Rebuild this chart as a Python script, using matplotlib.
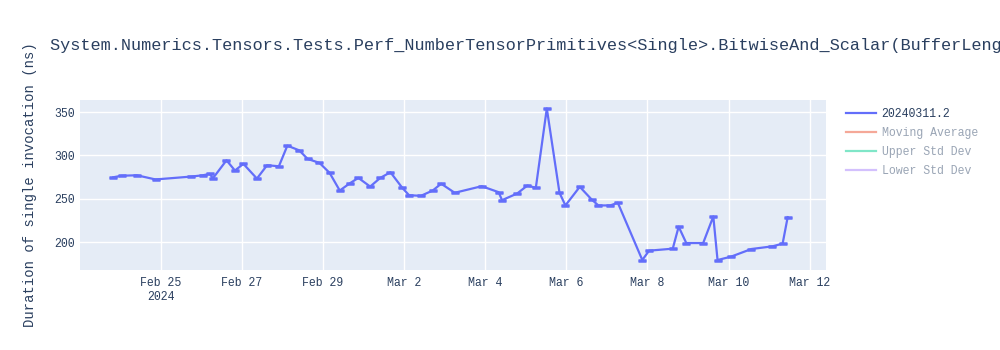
import matplotlib
matplotlib.use("Agg")
import matplotlib.pyplot as plt
from matplotlib.lines import Line2D
import pandas as pd

plt.rcParams["font.family"] = ["Liberation Mono", "DejaVu Sans Mono"]

TEXT = "#2a3f5f"
BLUE = "#636efa"

# values
run_times = [
    "2024-02-23 20:00", "2024-02-24 01:00", "2024-02-24 10:00", "2024-02-24 21:00",
    "2024-02-25 18:00", "2024-02-26 01:00", "2024-02-26 05:00", "2024-02-26 07:00",
    "2024-02-26 15:00", "2024-02-26 20:00", "2024-02-27 01:00", "2024-02-27 09:00",
    "2024-02-27 15:00", "2024-02-27 22:00", "2024-02-28 03:00", "2024-02-28 10:00",
    "2024-02-28 15:00", "2024-02-28 22:00", "2024-02-29 04:00", "2024-02-29 10:00",
    "2024-02-29 16:00", "2024-02-29 21:00", "2024-03-01 04:00", "2024-03-01 10:00",
    "2024-03-01 16:00", "2024-03-01 23:00", "2024-03-02 03:00", "2024-03-02 10:00",
    "2024-03-02 17:00", "2024-03-02 22:00", "2024-03-03 06:00", "2024-03-03 22:00",
    "2024-03-04 08:00", "2024-03-04 10:00", "2024-03-04 19:00", "2024-03-05 01:00",
    "2024-03-05 06:00", "2024-03-05 12:30", "2024-03-05 20:00", "2024-03-05 23:30",
    "2024-03-06 08:00", "2024-03-06 15:00", "2024-03-06 19:00", "2024-03-07 02:00",
    "2024-03-07 06:30", "2024-03-07 21:00", "2024-03-08 01:00", "2024-03-08 15:00",
    "2024-03-08 18:30", "2024-03-08 23:00", "2024-03-09 09:00", "2024-03-09 15:00",
    "2024-03-09 17:30", "2024-03-10 01:30", "2024-03-10 13:30", "2024-03-11 02:00",
    "2024-03-11 08:00", "2024-03-11 11:00",
]
durations = [
    274.7, 276.5, 277.0, 272.2, 275.5, 277.0, 278.6, 273.6,
    294.3, 282.5, 290.2, 273.2, 288.6, 287.4, 311.2, 305.8,
    295.9, 291.3, 279.8, 259.4, 267.8, 274.0, 264.0, 274.0,
    280.5, 262.5, 254.0, 253.3, 259.4, 267.3, 256.8, 264.4,
    257.5, 248.3, 256.0, 265.2, 262.5, 354.1, 256.8, 242.2,
    263.7, 249.1, 242.2, 242.2, 245.3, 179.2, 190.0, 192.3,
    217.7, 198.8, 198.8, 229.5, 179.2, 183.1, 191.9, 195.0,
    198.1, 228.7,
]
errors = [0.6] * len(durations)

series_name = "20240311.2"
hidden_names = ["Moving Average", "Upper Std Dev", "Lower Std Dev"]
hidden_colors = ["#f5a898", "#80e6c8", "#d3c0fd"]

y_ticks = [200, 250, 300, 350]
x_ticks = pd.date_range("2024-02-25", "2024-03-12", freq="2D")

title = ("System.Numerics.Tensors.Tests.Perf_NumberTensorPrimitives<Single>"
         ".BitwiseAnd_Scalar(BufferLength: 128)")

times = pd.to_datetime(run_times)

fig = plt.figure(figsize=(10, 3.5), dpi=100)
ax = fig.add_axes([0.08, 0.2286, 0.746, 0.4857])
ax.set_facecolor("#e5ecf6")

ax.errorbar(times, durations, yerr=errors, color=BLUE, lw=1.6,
            elinewidth=1.0, capsize=3.2, capthick=1.8, zorder=3)

ax.set_xlim(pd.Timestamp("2024-02-23 00:20"), pd.Timestamp("2024-03-12 09:40"))
ax.set_ylim(167.7, 363.9)
ax.set_yticks(y_ticks)
ax.set_xticks(x_ticks)
labels = []
for i, t in enumerate(x_ticks):
    s = f"{t.strftime('%b')} {t.day}"
    if i == 0:
        s += "\n2024"
    labels.append(s)
ax.set_xticklabels(labels)
ax.grid(True, color="white", lw=1.0)
ax.set_axisbelow(True)
for sp in ax.spines.values():
    sp.set_visible(False)
ax.tick_params(length=0, labelsize=8.3, colors=TEXT, pad=4)
ax.tick_params(axis="x", pad=5)
ax.set_ylabel("Duration of single invocation (ns)", fontsize=10, color=TEXT, labelpad=12)

fig.text(0.05, 0.87, title, fontsize=12.2, color=TEXT, ha="left", va="center")

handles = [Line2D([], [], color=BLUE, lw=1.6)]
handles += [Line2D([], [], color=c, lw=1.6) for c in hidden_colors]
leg = ax.legend(handles, [series_name] + hidden_names, loc="upper left",
                bbox_to_anchor=(1.016, 1.0), frameon=False, fontsize=8.3,
                handlelength=2.6, handletextpad=0.5, labelspacing=0.6,
                borderaxespad=0.3)
for i, txt in enumerate(leg.get_texts()):
    txt.set_color(TEXT if i == 0 else "#9aa5b5")

fig.savefig("out.png", dpi=100)
